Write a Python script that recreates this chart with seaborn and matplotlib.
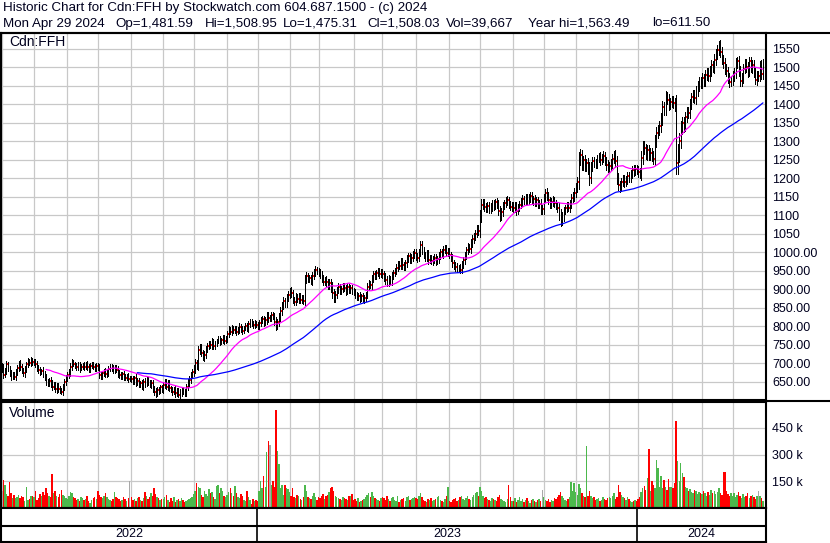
import numpy as np
import pandas as pd
import matplotlib
matplotlib.use("Agg")
import matplotlib.pyplot as plt
from matplotlib.lines import Line2D
import seaborn as sns

# ---------------- text ----------------
title_line = "Historic Chart for Cdn:FFH by Stockwatch.com 604.687.1500 - (c) 2024"
info_fields = ["Mon Apr 29 2024", "Op=1,481.59", "Hi=1,508.95", "Lo=1,475.31",
               "Cl=1,508.03", "Vol=39,667", "Year hi=1,563.49", "lo=611.50"]
info_field_px = [3, 115, 205, 283, 367, 446, 528, 652]
symbol = "Cdn:FFH"
volume_title = "Volume"

# ---------------- calendar ----------------
months = ["2022-05", "2022-06", "2022-07", "2022-08", "2022-09", "2022-10", "2022-11", "2022-12",
          "2023-01", "2023-02", "2023-03", "2023-04", "2023-05", "2023-06", "2023-07", "2023-08",
          "2023-09", "2023-10", "2023-11", "2023-12",
          "2024-01", "2024-02", "2024-03", "2024-04"]
month_days = [21, 22, 20, 22, 21, 20, 22, 20,
              21, 19, 23, 19, 22, 22, 20, 22, 20, 21, 22, 19,
              22, 20, 20, 21]
years = ["2022", "2023", "2024"]

# ---------------- daily closes (one row per month) ----------------
close_2022 = [
    688, 668, 680, 696, 684, 672, 664, 670, 662, 675, 686, 698, 690, 678, 672, 684, 697, 705, 700, 706, 702,
    703, 696, 688, 680, 676, 678, 671, 662, 650, 646, 652, 646, 636, 641, 630, 636, 630, 626, 622, 635, 648, 660,
    668, 676, 690, 702, 698, 692, 688, 695, 686, 690, 694, 690, 698, 688, 684, 692, 696, 690, 686, 692,
    688, 668, 664, 672, 678, 670, 674, 684, 690, 686, 680, 688, 682, 672, 668, 664, 670, 662, 660, 664, 658, 658,
    656, 650, 660, 648, 652, 642, 646, 636, 650, 644, 655, 648, 640, 646, 630, 622, 618, 628, 625, 634, 628,
    640, 650, 636, 645, 632, 628, 622, 630, 618, 625, 614, 620, 628, 622, 620, 635, 648, 655, 668, 675,
    685, 700, 692, 735, 742, 728, 715, 722, 738, 746, 752, 748, 758, 745, 752, 760, 765, 758, 762, 768, 760, 766,
    778, 790, 785, 795, 788, 792, 785, 790, 798, 792, 786, 795, 800, 794, 805, 812, 806, 802, 808, 804,
]
close_2023 = [
    800, 808, 815, 818, 810, 815, 828, 822, 822, 830, 826, 812, 800, 810, 825, 840, 855, 868, 860, 878, 885,
    895, 888, 870, 866, 878, 872, 880, 870, 876, 868, 925, 935, 928, 930, 922, 935, 945, 952, 948,
    945, 938, 928, 920, 925, 918, 910, 915, 905, 890, 875, 885, 898, 905, 895, 900, 908, 902, 895, 905, 898, 902, 895,
    892, 885, 878, 882, 875, 880, 872, 876, 885, 905, 915, 910, 928, 940, 935, 942, 948, 940, 945,
    940, 932, 925, 918, 928, 922, 936, 942, 950, 958, 968, 962, 975, 965, 960, 970, 982, 988, 978, 985, 992, 998,
    988, 984, 1000, 1020, 1005, 992, 985, 996, 978, 983, 975, 980, 985, 975, 980, 990, 1000, 995, 1005, 1010, 998, 1002,
    992, 985, 970, 962, 960, 955, 958, 952, 965, 978, 990, 1005, 1014, 1008, 1025, 1035, 1042, 1050, 1062, 1058,
    1095, 1128, 1132, 1122, 1118, 1125, 1115, 1122, 1130, 1124, 1135, 1128, 1112, 1098, 1108, 1125, 1132, 1138, 1140, 1128, 1122, 1126,
    1118, 1125, 1112, 1120, 1128, 1135, 1142, 1138, 1148, 1140, 1145, 1152, 1138, 1142, 1135, 1140, 1128, 1130, 1115, 1115,
    1145, 1160, 1152, 1140, 1128, 1135, 1140, 1132, 1125, 1118, 1100, 1085, 1096, 1112, 1118, 1125, 1120, 1130, 1145, 1150, 1160,
    1175, 1190, 1250, 1262, 1235, 1248, 1232, 1240, 1225, 1200, 1230, 1245, 1240, 1238, 1252, 1258, 1248, 1254, 1260, 1245, 1235, 1228,
    1232, 1240, 1252, 1262, 1245, 1200, 1180, 1175, 1190, 1196, 1188, 1195, 1205, 1200, 1212, 1222, 1218, 1225, 1220,
]
close_2024 = [
    1215, 1212, 1255, 1285, 1280, 1265, 1275, 1262, 1268, 1258, 1252, 1300, 1322, 1330, 1340, 1360, 1392, 1385, 1420, 1412, 1398, 1405,
    1410, 1402, 1395, 1240, 1265, 1300, 1335, 1350, 1340, 1365, 1380, 1375, 1400, 1418, 1425, 1415, 1435, 1448, 1460, 1455,
    1470, 1462, 1478, 1485, 1475, 1490, 1505, 1498, 1520, 1535, 1545, 1558, 1540, 1520, 1510, 1495, 1488, 1470, 1460, 1465,
    1475, 1485, 1510, 1515, 1490, 1462, 1470, 1495, 1510, 1500, 1488, 1515, 1498, 1505, 1485, 1465, 1475, 1475, 1505, 1482, 1508,
]

# ---------------- extra daily range beyond open/close (dollars) ----------------
spread_2022 = [
    12, 8, 7, 9, 6, 8, 10, 7, 6, 9, 8, 7, 10, 6, 8, 9, 7, 8, 6, 9, 7,
    8, 7, 9, 6, 8, 7, 10, 8, 9, 7, 8, 10, 9, 7, 8, 10, 9, 8, 7, 9, 8, 7,
    8, 9, 10, 8, 7, 6, 8, 7, 9, 6, 7, 8, 6, 7, 9, 8, 6, 7, 8, 7,
    7, 9, 8, 7, 6, 8, 7, 9, 6, 7, 8, 6, 7, 9, 8, 7, 6, 8, 7, 6, 8, 7,
    7, 8, 6, 9, 7, 8, 6, 7, 8, 9, 7, 8, 6, 7, 9, 8, 10, 7, 8, 6, 7,
    9, 8, 7, 8, 9, 7, 8, 6, 9, 8, 7, 9, 8, 7, 8, 9, 8, 10, 9, 8,
    10, 12, 9, 11, 10, 9, 8, 10, 9, 8, 7, 8, 9, 7, 8, 6, 7, 8, 6, 7, 8, 7,
    8, 9, 7, 8, 6, 7, 8, 6, 9, 7, 8, 6, 7, 8, 9, 7, 6, 7, 8, 6,
]
spread_2023 = [
    8, 7, 9, 8, 10, 8, 9, 10, 8, 9, 8, 10, 12, 9, 10, 11, 9, 10, 8, 9, 10,
    9, 10, 8, 9, 10, 8, 9, 8, 7, 9, 12, 10, 9, 8, 9, 10, 8, 9, 8,
    9, 8, 10, 9, 8, 10, 9, 11, 12, 13, 10, 9, 8, 10, 9, 8, 9, 8, 10, 9, 8, 9, 8,
    9, 8, 7, 8, 9, 7, 8, 9, 8, 10, 9, 8, 10, 9, 8, 9, 8, 9, 8,
    9, 10, 11, 10, 9, 8, 10, 9, 8, 10, 9, 8, 9, 10, 8, 9, 10, 9, 8, 9, 10, 9,
    9, 10, 9, 11, 10, 9, 8, 9, 10, 9, 8, 9, 10, 9, 8, 10, 9, 8, 10, 9, 8, 9,
    9, 8, 10, 9, 10, 9, 8, 9, 10, 9, 10, 9, 10, 9, 10, 11, 10, 9, 10, 11,
    18, 14, 12, 10, 11, 10, 9, 10, 11, 10, 9, 10, 12, 13, 11, 10, 9, 10, 11, 10, 9, 10,
    10, 9, 11, 10, 9, 10, 11, 9, 10, 9, 11, 10, 9, 10, 11, 10, 9, 10, 12, 11,
    11, 10, 12, 10, 9, 10, 11, 10, 9, 11, 14, 16, 12, 11, 10, 9, 10, 11, 12, 11, 12,
    12, 14, 20, 16, 14, 12, 13, 12, 14, 18, 13, 12, 11, 12, 11, 10, 12, 11, 12, 11, 12, 13,
    12, 11, 13, 12, 14, 15, 13, 12, 11, 12, 11, 10, 12, 11, 10, 11, 12, 11, 10,
]
spread_2024 = [
    12, 11, 18, 16, 14, 13, 15, 14, 13, 12, 14, 16, 15, 14, 13, 15, 16, 14, 15, 13, 14, 12,
    13, 12, 14, 30, 28, 22, 18, 16, 15, 14, 13, 12, 14, 13, 12, 13, 14, 13, 12, 13,
    13, 12, 14, 13, 12, 14, 13, 12, 14, 15, 14, 13, 14, 13, 12, 14, 13, 12, 13, 12,
    13, 12, 14, 13, 15, 14, 13, 14, 12, 13, 14, 13, 12, 14, 13, 12, 14, 13, 12, 13, 14,
]

# ---------------- daily volume (thousands of shares) ----------------
volume_2022 = [
    94, 160, 128, 79, 70, 145, 84, 56, 75, 56, 60, 75, 56, 70, 60, 37, 116, 45, 50, 65, 70,
    60, 95, 45, 55, 80, 65, 90, 75, 110, 85, 70, 60, 192, 85, 95, 70, 60, 80, 100, 75, 65, 55,
    50, 70, 90, 85, 60, 55, 45, 50, 40, 60, 55, 45, 50, 65, 40, 30, 45, 55, 60, 50,
    95, 75, 60, 55, 65, 85, 60, 50, 45, 40, 50, 90, 60, 55, 50, 40, 45, 60, 50, 40, 55, 153,
    60, 45, 50, 40, 55, 60, 45, 40, 55, 90, 65, 50, 60, 85, 70, 110, 80, 60, 55, 45, 50,
    50, 60, 75, 45, 35, 55, 40, 60, 35, 45, 50, 40, 55, 45, 35, 40, 45, 50, 55, 60,
    80, 95, 141, 120, 110, 75, 60, 95, 80, 70, 105, 85, 90, 60, 50, 125, 130, 85, 110, 95, 70, 60,
    75, 90, 110, 85, 70, 125, 85, 60, 55, 80, 70, 45, 40, 95, 60, 45, 25, 50, 40, 45,
]
volume_2023 = [
    40, 95, 153, 110, 178, 120, 315, 379, 356, 130, 154, 120, 553, 322, 247, 115, 127, 75, 127, 110, 108,
    90, 70, 110, 60, 55, 75, 65, 50, 45, 60, 130, 95, 60, 55, 50, 70, 85, 60, 45,
    60, 55, 70, 80, 50, 65, 75, 90, 110, 120, 95, 70, 60, 55, 50, 45, 60, 55, 50, 45, 65, 70, 80,
    45, 50, 40, 55, 35, 40, 45, 50, 60, 75, 85, 60, 90, 70, 55, 50, 45, 40, 55,
    60, 55, 45, 70, 50, 40, 55, 60, 45, 40, 65, 35, 45, 50, 55, 40, 60, 70, 45, 50, 55, 60,
    55, 50, 65, 85, 60, 45, 40, 35, 50, 45, 55, 40, 45, 50, 60, 70, 45, 40, 35, 50, 65, 120,
    40, 35, 45, 50, 55, 40, 45, 60, 70, 50, 45, 55, 65, 50, 45, 60, 75, 85, 90, 70,
    120, 95, 70, 55, 60, 50, 45, 40, 55, 50, 45, 40, 60, 75, 50, 45, 40, 35, 50, 129, 60, 40,
    40, 55, 35, 45, 60, 40, 50, 35, 45, 55, 40, 30, 45, 50, 40, 35, 45, 50, 40, 101,
    60, 45, 40, 50, 35, 45, 40, 55, 50, 60, 75, 90, 70, 55, 45, 40, 50, 60, 144, 95, 138,
    90, 75, 133, 110, 85, 70, 60, 349, 65, 94, 70, 55, 60, 45, 50, 55, 40, 45, 60, 50, 45, 55,
    60, 55, 70, 85, 50, 60, 131, 90, 75, 60, 55, 45, 60, 50, 40, 35, 40, 45, 40,
]
volume_2024 = [
    50, 60, 90, 110, 122, 100, 170, 332, 95, 154, 130, 110, 270, 225, 120, 178, 110, 159, 120, 100, 165, 120,
    120, 110, 141, 491, 266, 150, 253, 197, 172, 120, 110, 98, 105, 90, 85, 100, 95, 80, 90, 85,
    80, 95, 85, 70, 90, 75, 100, 85, 95, 80, 90, 110, 85, 75, 202, 202, 95, 80, 70, 85,
    70, 85, 60, 75, 90, 65, 55, 80, 60, 70, 85, 55, 65, 75, 60, 50, 70, 94, 65, 55, 40,
]

# ---------------- axis ticks ----------------
price_ticks = [650, 700, 750, 800, 850, 900, 950, 1000, 1050, 1100, 1150,
               1200, 1250, 1300, 1350, 1400, 1450, 1500, 1550]
volume_ticks = [150, 300, 450]
ma_short, ma_long = 30, 90

# ---------------- derived series ----------------
closes = np.array(close_2022 + close_2023 + close_2024, dtype=float)
spreads = np.array(spread_2022 + spread_2023 + spread_2024, dtype=float)
vols = np.array(volume_2022 + volume_2023 + volume_2024, dtype=float)
n = min(len(closes), len(spreads), len(vols))
closes, spreads, vols = closes[:n], spreads[:n], vols[:n]
day = np.arange(n)
opens = np.r_[closes[0], closes[:-1]]
highs = np.maximum(opens, closes) + spreads
lows = np.minimum(opens, closes) - spreads

GREEN, RED, GRAY = "#4cb84c", "#ff0000", "#a8a8a8"
chg = closes - opens
vol_colors = np.where(chg > 0, GREEN, np.where(chg < 0, RED, GRAY))

df = pd.DataFrame({"day": day, "close": closes})
df["ma_s"] = df["close"].rolling(ma_short).mean()
df["ma_l"] = df["close"].rolling(ma_long).mean()

month_start = np.r_[0, np.cumsum(month_days)[:-1]]
year_start = [int(month_start[i]) for i, m in enumerate(months) if m.endswith("-01")]

# ---------------- style ----------------
sns.set_style("white")
plt.rcParams["font.family"] = ["Liberation Sans", "DejaVu Sans"]
TXT = "#00001e"
GRID = "#c8c8c8"

W, H = 830, 543
fig = plt.figure(figsize=(W / 100, H / 100), dpi=100)
fig.patch.set_facecolor("white")


def box(l, t, r, b):
    return [l / W, 1 - b / H, (r - l) / W, (b - t) / H]


XL = (-0.6, n + 1.0)

ax = fig.add_axes(box(1, 33, 766, 400))
axv = fig.add_axes(box(1, 402, 766, 508))
axd = fig.add_axes(box(1, 508, 766, 542))

for a in (ax, axv, axd):
    a.set_facecolor("white")
    a.set_xlim(*XL)
    for s in a.spines.values():
        s.set_visible(True)
        s.set_color("black")
        s.set_linewidth(1.5)

# ---- price panel ----
ax.set_ylim(600, 1592)
ax.set_xticks(month_start)
ax.set_xticklabels([])
ax.yaxis.tick_right()
ax.set_yticks(price_ticks)
ax.set_yticklabels([f"{v:.2f}" if v <= 1000 else f"{v:d}" for v in price_ticks])
ax.tick_params(axis="both", length=0)
ax.tick_params(axis="y", pad=4.5, labelsize=9, labelcolor=TXT)
ax.grid(True, color=GRID, lw=0.9)
ax.set_axisbelow(True)

ax.hlines(closes, day + 0.2, day + 0.95, colors=RED, lw=1.4, zorder=2, antialiased=False)
ax.vlines(day, lows, highs, colors="black", lw=0.72, zorder=3, antialiased=False)
sns.lineplot(data=df, x="day", y="ma_s", color="#ff00ff", lw=0.9, ax=ax, zorder=4)
sns.lineplot(data=df, x="day", y="ma_l", color="#0000ff", lw=0.9, ax=ax, zorder=4)
ax.set_xlim(*XL)
ax.set_xlabel("")
ax.set_ylabel("")
ax.text(8 / 765, 1 - 9 / 367, symbol, transform=ax.transAxes, fontsize=10,
        color=TXT, va="center", ha="left", zorder=6)

# ---- volume panel ----
axv.bar(day, vols, width=0.95, color=vol_colors, lw=0, zorder=2, antialiased=False)
axv.set_ylim(0, 596)
axv.set_xticks(month_start)
axv.set_xticklabels([])
axv.yaxis.tick_right()
axv.set_yticks(volume_ticks)
axv.set_yticklabels([f"{v} k" for v in volume_ticks])
axv.tick_params(axis="both", length=0)
axv.tick_params(axis="y", pad=4.5, labelsize=9, labelcolor=TXT)
axv.grid(True, color=GRID, lw=0.9)
axv.set_axisbelow(True)
axv.text(8 / 765, 1 - 11 / 106, volume_title, transform=axv.transAxes, fontsize=10,
         color=TXT, va="center", ha="left")

# ---- date band ----
axd.set_ylim(0, 1)
axd.set_xticks([])
axd.set_yticks([])
axd.axhline(16 / 34, color="black", lw=1.5)
for ys in year_start:
    axd.axvline(ys - 0.5, color="black", lw=1.2)
edges = [XL[0]] + [ys - 0.5 for ys in year_start] + [XL[1]]
for i, yr in enumerate(years):
    axd.text((edges[i] + edges[i + 1]) / 2, 8 / 34, yr, ha="center", va="center",
             fontsize=9, color=TXT)

# ---- header and frame lines ----
fig.text(3 / W, 1 - 8.5 / H, title_line, fontsize=9.6, color=TXT, va="center", ha="left")
for txt, px in zip(info_fields, info_field_px):
    fig.text(px / W, 1 - 23.5 / H, txt, fontsize=9.6, color=TXT, va="center", ha="left")
fig.add_artist(Line2D([0, 1], [1 - 33 / H, 1 - 33 / H], color="black", lw=1.5,
                      transform=fig.transFigure))
fig.add_artist(Line2D([766 / W, 1], [1 - 400.5 / H, 1 - 400.5 / H], color="black", lw=1.5,
                      transform=fig.transFigure))

fig.savefig("out.png", dpi=100, facecolor="white")
